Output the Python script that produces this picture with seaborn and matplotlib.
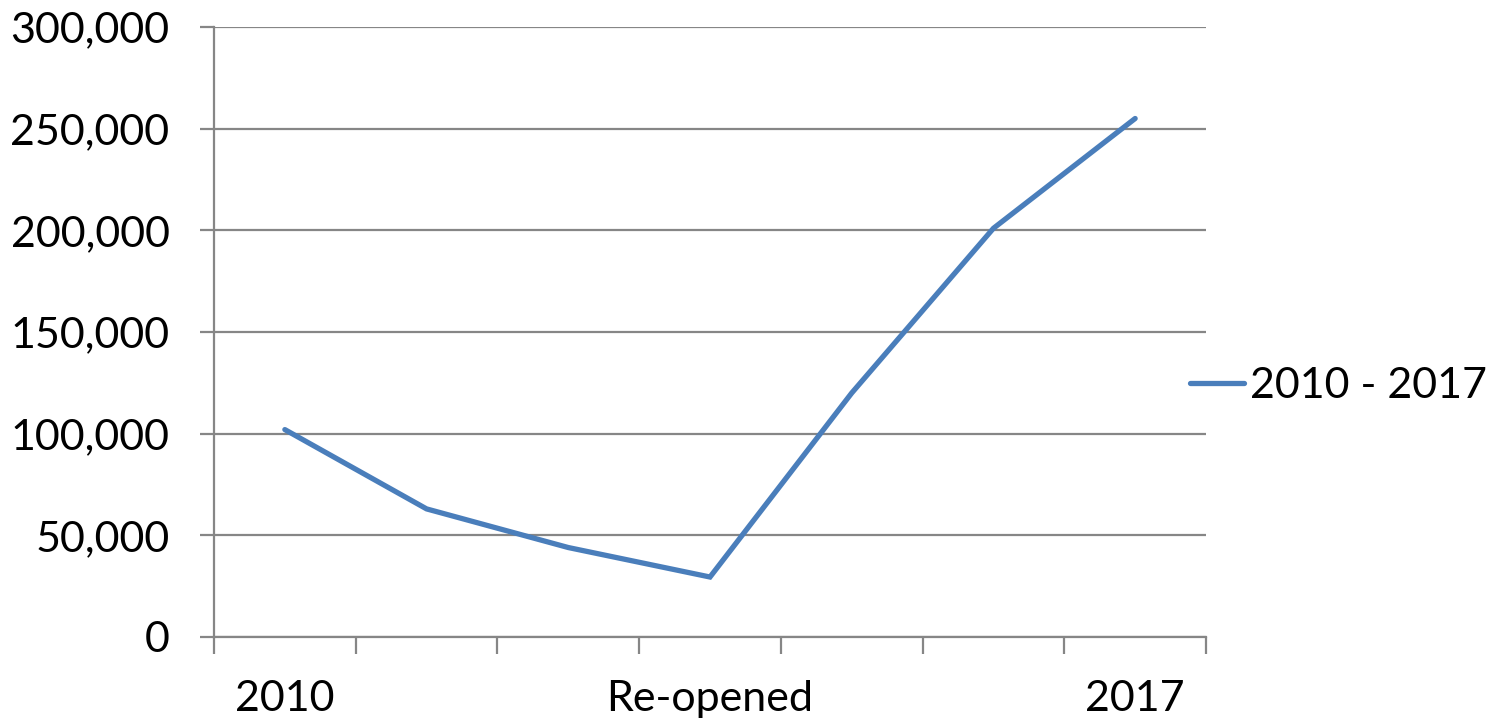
import matplotlib
matplotlib.use("Agg")
import matplotlib.pyplot as plt
import seaborn as sns
import pandas as pd
import numpy as np
from matplotlib.ticker import FuncFormatter, FixedLocator

# Data
tick_labels = ["2010", "", "", "Re-opened", "", "", "2017"]
values = [102000, 63000, 44000, 29500, 120000, 201000, 255000]
series_name = "2010 - 2017"

sns.set_theme(style="white")
plt.rcParams['font.family'] = ['Lato', 'DejaVu Sans']

df = pd.DataFrame({"pos": np.arange(len(values)), "value": values, "series": series_name})

W, H = 1496, 723
fig = plt.figure(figsize=(W / 100, H / 100), dpi=100)
ax = fig.add_axes([214 / W, 1 - 637 / H, (1206 - 214) / W, (637 - 27) / H])

grid_col = "#868686"
line_col = "#4A7EBB"
fs = 31

sns.lineplot(data=df, x="pos", y="value", hue="series", palette=[line_col],
             linewidth=3.8, ax=ax, legend=True, solid_capstyle="round", solid_joinstyle="miter")

ax.set_xlim(-0.5, len(values) - 0.5)
ax.set_ylim(0, 300000)
ax.set_yticks(np.arange(0, 300001, 50000))
ax.yaxis.set_major_formatter(FuncFormatter(lambda v, p: f"{int(v):,}"))
ax.yaxis.grid(True, color=grid_col, linewidth=1.6)
ax.set_axisbelow(True)

ax.set_xticks(np.arange(len(values)))
ax.set_xticklabels(tick_labels)
ax.xaxis.set_minor_locator(FixedLocator(np.arange(-0.5, len(values), 1.0)))
ax.tick_params(axis="x", which="major", length=0, pad=31, labelsize=fs, labelcolor="black")
ax.tick_params(axis="x", which="minor", length=12, width=1.6, color=grid_col, direction="out", bottom=True)
ax.tick_params(axis="y", which="major", length=10, width=1.6, color=grid_col, direction="out",
               left=True, pad=22, labelsize=fs, labelcolor="black")

for s in ["top", "right"]:
    ax.spines[s].set_visible(False)
for s in ["left", "bottom"]:
    ax.spines[s].set_color(grid_col)
    ax.spines[s].set_linewidth(1.6)

ax.set_xlabel("")
ax.set_ylabel("")

leg = ax.legend(loc="center left", bbox_to_anchor=(1190 / W, 1 - 386 / H),
                bbox_transform=fig.transFigure, frameon=False, borderpad=0, borderaxespad=0,
                fontsize=fs, handlelength=1.25, handletextpad=0.15)
for h in leg.get_lines():
    h.set_linewidth(3.8)
    h.set_solid_capstyle("round")
for t in leg.get_texts():
    t.set_color("black")

fig.savefig("out.png", dpi=100, facecolor="white")
